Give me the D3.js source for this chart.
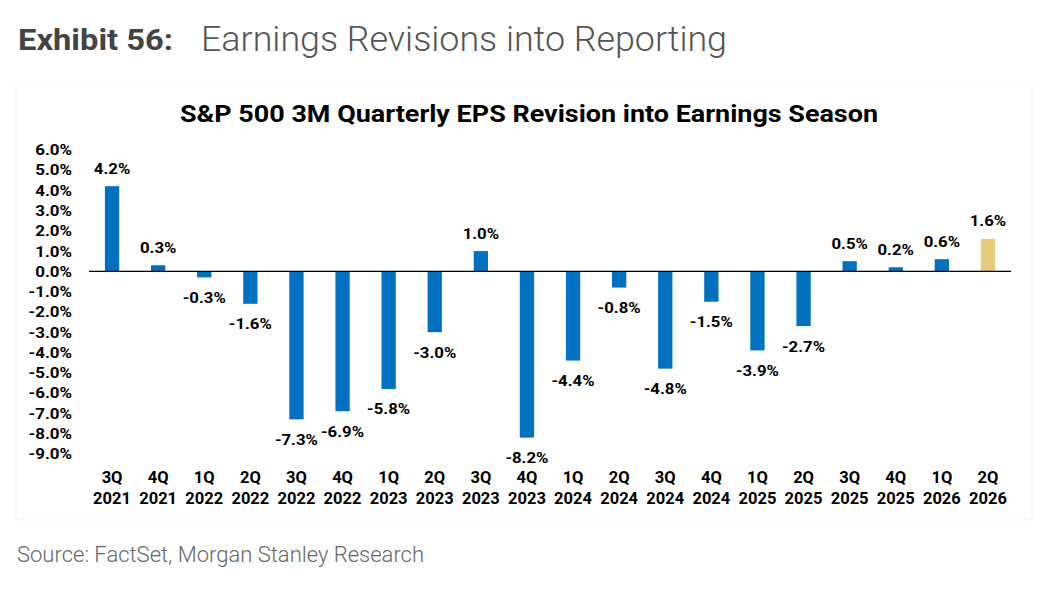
<!DOCTYPE html>
<html>
<head>
<meta charset="utf-8">
<script src="https://cdn.jsdelivr.net/npm/d3@7"></script>
<style>
  body { margin: 0; background: #fff; }
  text { font-family: Roboto, "Noto Sans", sans-serif; }
</style>
</head>
<body>
<div class="chart"></div>
<script>
// quarters and 3M EPS revision (%)
const quarters = ["3Q", "4Q", "1Q", "2Q", "3Q", "4Q", "1Q", "2Q", "3Q", "4Q",
                  "1Q", "2Q", "3Q", "4Q", "1Q", "2Q", "3Q", "4Q", "1Q", "2Q"];
const years = ["2021", "2021", "2022", "2022", "2022", "2022", "2023", "2023", "2023", "2023",
               "2024", "2024", "2024", "2024", "2025", "2025", "2025", "2025", "2026", "2026"];
const revisions = [4.2, 0.3, -0.3, -1.6, -7.3, -6.9, -5.8, -3.0, 1.0, -8.2,
                   -4.4, -0.8, -4.8, -1.5, -3.9, -2.7, 0.5, 0.2, 0.6, 1.6];
const yTicks = [6, 5, 4, 3, 2, 1, 0, -1, -2, -3, -4, -5, -6, -7, -8, -9];
const highlightIndex = 19; // current quarter drawn in gold

// widen text a little, the source image is slightly stretched
function stretch(sel, k) {
    sel.each(function() {
        let len = this.getComputedTextLength();
        d3.select(this)
            .attr('textLength', len * k)
            .attr('lengthAdjust', 'spacingAndGlyphs');
    });
}

function drawChart() {
    let svg = d3.select('.chart')
        .append('svg')
        .attr('width', 1056)
        .attr('height', 596);

    // faint frame around the chart area
    svg.append('rect')
        .attr('x', 16).attr('y', 84)
        .attr('width', 1016).attr('height', 436)
        .attr('fill', 'none')
        .attr('stroke', '#f5f5f5');

    svg.append('text')
        .attr('x', 18).attr('y', 50)
        .style('font-size', '29px')
        .style('font-weight', 700)
        .attr('fill', '#444')
        .attr('textLength', 155)
        .attr('lengthAdjust', 'spacingAndGlyphs')
        .text('Exhibit 56:');
    svg.append('text')
        .attr('x', 201).attr('y', 50.5)
        .style('font-size', '35px')
        .style('font-weight', 300)
        .attr('fill', '#555')
        .attr('textLength', 526)
        .attr('lengthAdjust', 'spacingAndGlyphs')
        .text('Earnings Revisions into Reporting');

    svg.append('text')
        .attr('x', 529).attr('y', 122)
        .style('text-anchor', 'middle')
        .style('font-size', '24.4px')
        .style('font-weight', 700)
        .attr('fill', '#000')
        .attr('textLength', 698)
        .attr('lengthAdjust', 'spacingAndGlyphs')
        .text('S&P 500 3M Quarterly EPS Revision into Earnings Season');

    let left = 89, right = 1011;
    let ids = revisions.map((d, i) => i);
    let x = d3.scaleBand().domain(ids).range([left, right]).paddingInner(0.69).paddingOuter(0.345);
    let y = d3.scaleLinear().domain([6, -9]).range([149.7, 453.8]);

    // y axis labels
    let yAxis = svg.append('g')
        .attr('transform', 'translate(72,0)')
        .call(d3.axisLeft(y).tickValues(yTicks).tickSize(0).tickPadding(0)
            .tickFormat(d => d.toFixed(1) + '%'));
    yAxis.select('.domain').remove();
    yAxis.selectAll('text')
        .style('font-family', 'Roboto, sans-serif')
        .style('font-size', '15.5px')
        .style('font-weight', 700)
        .attr('fill', '#000')
        .call(stretch, 1.09);

    // bars
    svg.selectAll('.bar')
        .data(revisions)
        .enter().append('rect')
        .attr('class', 'bar')
        .attr('x', (d, i) => x(i))
        .attr('width', x.bandwidth())
        .attr('y', d => y(Math.max(0, d)))
        .attr('height', d => Math.abs(y(d) - y(0)))
        .attr('fill', (d, i) => i === highlightIndex ? '#E8CB7A' : '#0070C0');

    // zero line
    svg.append('line')
        .attr('x1', left).attr('x2', right)
        .attr('y1', y(0)).attr('y2', y(0))
        .attr('stroke', '#000')
        .attr('stroke-width', 1.2);

    // value labels
    svg.selectAll('.val')
        .data(revisions)
        .enter().append('text')
        .attr('class', 'val')
        .attr('x', (d, i) => x(i) + x.bandwidth() / 2)
        .attr('y', d => d >= 0 ? y(d) - 12.5 : y(d) + 25.5)
        .style('text-anchor', 'middle')
        .style('font-size', '15.5px')
        .style('font-weight', 700)
        .attr('fill', '#000')
        .text(d => d.toFixed(1) + '%')
        .call(stretch, 1.08);

    // x axis category labels (two lines)
    let xAxis = svg.append('g')
        .attr('transform', 'translate(0,0)')
        .call(d3.axisBottom(x).tickSize(0).tickPadding(0).tickFormat(() => ''));
    xAxis.select('.domain').remove();
    xAxis.selectAll('.tick text').each(function(i) {
        let t = d3.select(this)
            .style('font-family', 'Roboto, sans-serif')
            .style('font-size', '16.5px')
            .style('font-weight', 700)
            .attr('fill', '#000')
            .attr('dy', 0)
            .attr('y', 0);
        t.append('tspan').attr('x', 0).attr('y', 482.5).text(quarters[i]);
        t.append('tspan').attr('x', 0).attr('y', 503.5).text(years[i]);
    });

    svg.append('text')
        .attr('x', 17).attr('y', 562)
        .style('font-size', '22px')
        .style('font-weight', 300)
        .attr('fill', '#666')
        .text('Source: FactSet, Morgan Stanley Research');
}

drawChart();
</script>
</body>
</html>
